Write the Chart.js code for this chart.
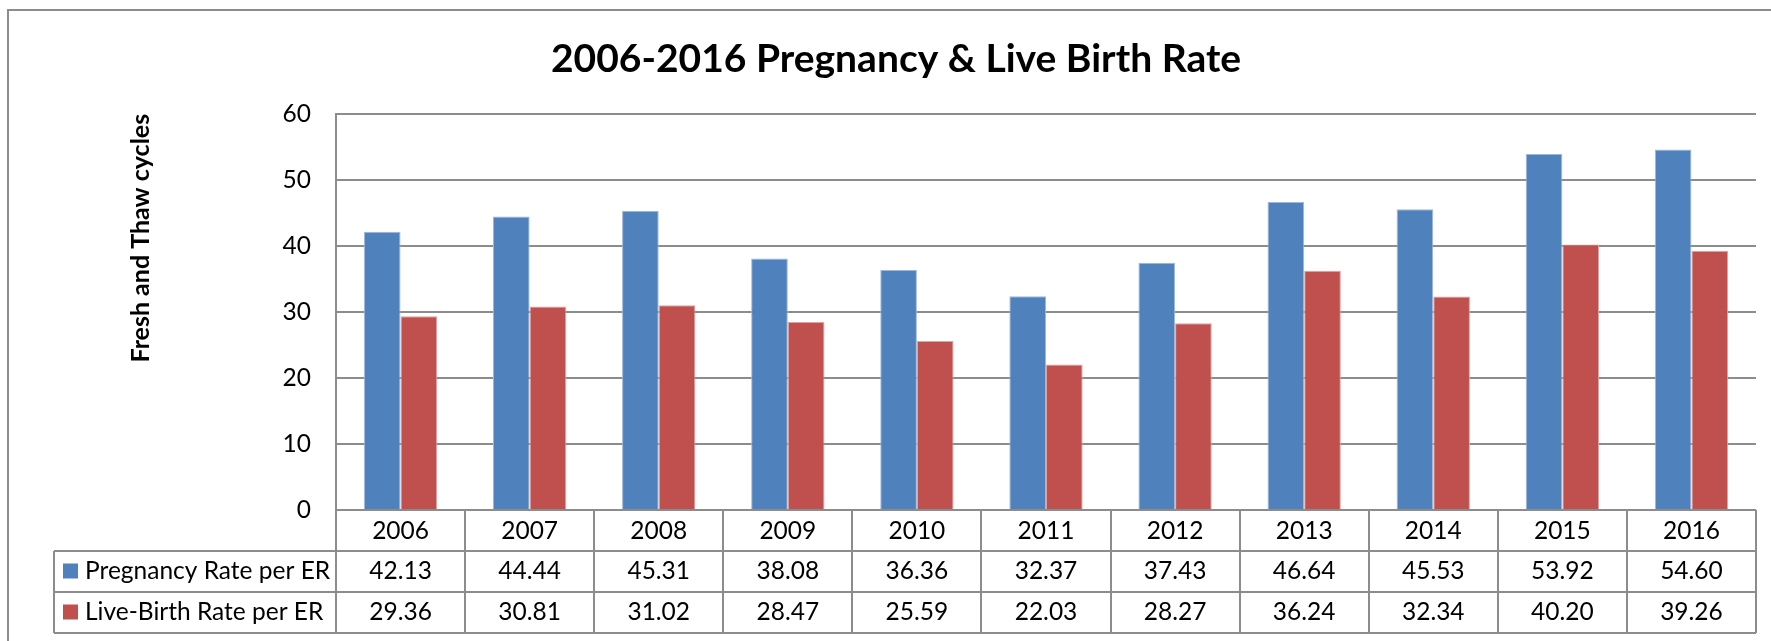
<!DOCTYPE html>
<html>
<head>
<meta charset="utf-8">
<script src="https://cdn.jsdelivr.net/npm/chart.js@4.4.1/dist/chart.umd.min.js"></script>
<style>
    html, body { margin: 0; padding: 0; background: #fff; overflow: hidden; }
    #wrap { position: relative; width: 1771px; height: 641px; }
</style>
</head>
<body>
<div id="wrap"><canvas id="graphCanvas"></canvas></div>
<script>
var years = ['2006', '2007', '2008', '2009', '2010', '2011', '2012', '2013', '2014', '2015', '2016'];
var pregnancyRate = [42.13, 44.44, 45.31, 38.08, 36.36, 32.37, 37.43, 46.64, 45.53, 53.92, 54.60];
var liveBirthRate = [29.36, 30.81, 31.02, 28.47, 25.59, 22.03, 28.27, 36.24, 32.34, 40.20, 39.26];
var seriesNames = ['Pregnancy Rate per ER', 'Live-Birth Rate per ER'];
var seriesColors = ['#4F81BD', '#C0504D'];
var yMax = 60;
var yStep = 10;

var lineColor = '#8c8c8c';
var textFont = '24.5px Lato';

// data table under the x axis + outer frame
var dataTable = {
    id: 'dataTable',
    afterDraw: function (chart) {
        var ctx = chart.ctx;
        var xs = chart.scales.x;
        var area = chart.chartArea;
        var colW = (xs.right - xs.left) / years.length;
        var rowH = xs.bottom - xs.top;
        var legendLeft = 54;
        var rows = [xs.bottom, xs.bottom + rowH, xs.bottom + 2 * rowH];
        var tableBottom = rows[2];

        ctx.save();
        ctx.strokeStyle = lineColor;
        ctx.lineWidth = 2;

        // outer frame
        ctx.beginPath();
        ctx.moveTo(8, chart.height);
        ctx.lineTo(8, 10);
        ctx.lineTo(chart.width, 10);
        ctx.stroke();

        ctx.beginPath();
        rows.forEach(function (y) {
            ctx.moveTo(legendLeft, y);
            ctx.lineTo(xs.right, y);
        });
        ctx.moveTo(legendLeft, rows[0]);
        ctx.lineTo(legendLeft, tableBottom);
        for (var i = 0; i <= years.length; i++) {
            var x = Math.round(xs.left + i * colW);
            ctx.moveTo(x, area.bottom);
            ctx.lineTo(x, tableBottom);
        }
        ctx.stroke();

        ctx.font = textFont;
        ctx.fillStyle = '#000';
        ctx.textBaseline = 'middle';
        chart.data.datasets.forEach(function (ds, r) {
            var cy = rows[r] + rowH / 2;
            ctx.fillStyle = ds.backgroundColor;
            ctx.fillRect(63, cy - 8, 15, 15);
            ctx.fillStyle = '#000';
            ctx.textAlign = 'left';
            ctx.fillText(ds.label, 85, cy);
            ctx.textAlign = 'center';
            ds.data.forEach(function (v, i) {
                ctx.fillText(v.toFixed(2), xs.getPixelForValue(i), cy);
            });
        });
        ctx.restore();
    }
};

var chart = new Chart(document.getElementById('graphCanvas'), {
    type: 'bar',
    data: {
        labels: years,
        datasets: [{
            label: seriesNames[0],
            data: pregnancyRate,
            backgroundColor: seriesColors[0],
            borderColor: '#9fb8d8',
            borderWidth: 1
        }, {
            label: seriesNames[1],
            data: liveBirthRate,
            backgroundColor: seriesColors[1],
            borderColor: '#e0a3a1',
            borderWidth: 1
        }]
    },
    options: {
        responsive: true,
        maintainAspectRatio: false,
        animation: false,
        datasets: {
            bar: { categoryPercentage: 0.568, barPercentage: 1 }
        },
        layout: { padding: { left: 36, right: 15, top: 0, bottom: 90 } },
        plugins: {
            legend: { display: false },
            tooltip: { enabled: false },
            title: {
                display: true,
                text: '2006-2016 Pregnancy & Live Birth Rate',
                color: '#000',
                font: { family: 'Lato', size: 39, weight: 'bold', lineHeight: 1.2 },
                padding: { top: 36, bottom: 31 }
            }
        },
        scales: {
            x: {
                afterFit: function (scale) { scale.height = 41; },
                grid: { display: false, drawTicks: false },
                border: { display: false },
                ticks: {
                    color: '#000',
                    font: { family: 'Lato', size: 24.5 },
                    padding: 6,
                    maxRotation: 0
                }
            },
            y: {
                min: 0,
                max: yMax,
                afterFit: function (scale) { scale.width = 300; },
                grid: { color: lineColor, lineWidth: 2, drawTicks: false },
                border: { display: true, color: lineColor, width: 2 },
                ticks: {
                    stepSize: yStep,
                    color: '#000',
                    font: { family: 'Lato', size: 24.5 },
                    padding: 25
                },
                title: {
                    display: true,
                    text: 'Fresh and Thaw cycles',
                    align: 'end',
                    color: '#000',
                    font: { family: 'Lato', size: 25, weight: 'bold', lineHeight: 1.2 },
                    padding: { top: 90, bottom: 0 }
                }
            }
        }
    },
    plugins: [dataTable]
});
</script>
</body>
</html>
